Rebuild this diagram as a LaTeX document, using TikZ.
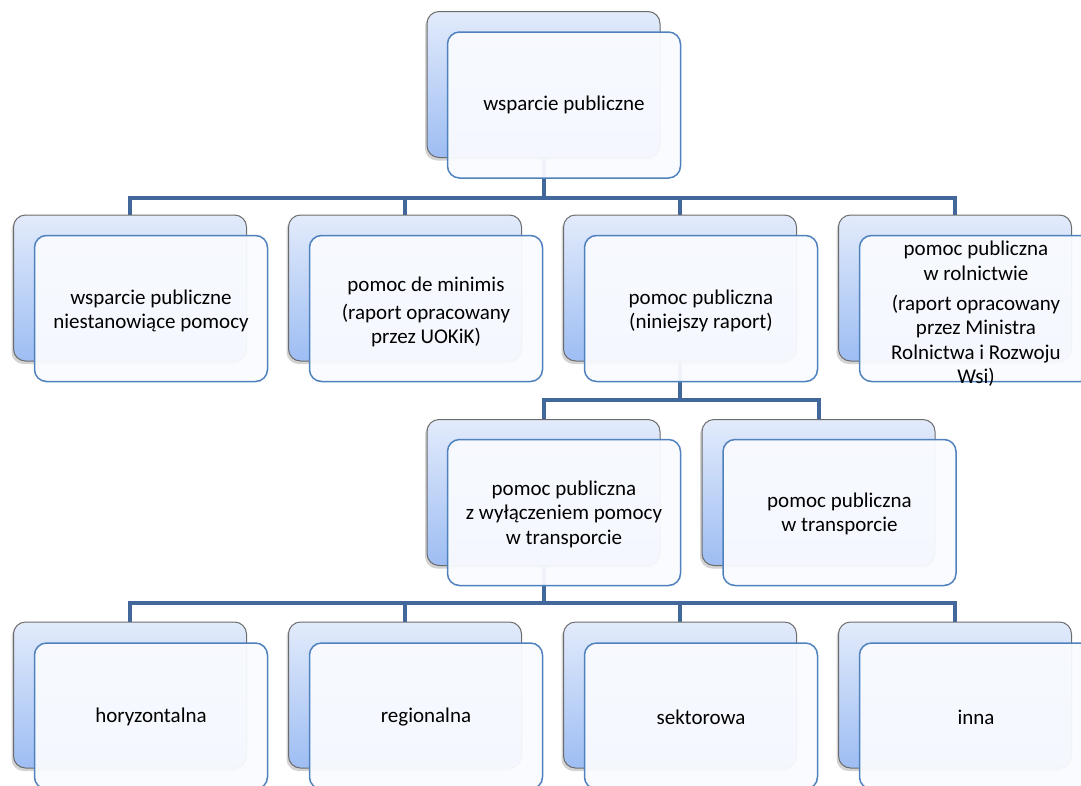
\documentclass[tikz,border=0pt]{standalone}
\usepackage{fontspec}
\setmainfont{Carlito}
\usetikzlibrary{shadows}
\pgfdeclarelayer{bg}
\pgfsetlayers{bg,main}
\definecolor{conncol}{HTML}{41679B}
\definecolor{fborder}{HTML}{4F81BD}
\definecolor{btop}{HTML}{E2EBFB}
\definecolor{bbot}{HTML}{9EBDF3}
\definecolor{ffill}{HTML}{F9FBFF}
\begin{document}
\begin{tikzpicture}[x=1pt,y=-1pt,
  backbox/.style={draw=gray!85!black, line width=1pt, rounded corners=12pt,
    top color=btop, bottom color=bbot, minimum width=233pt, minimum height=146pt,
    inner sep=0pt, drop shadow={shadow xshift=-2pt, shadow yshift=-3pt, opacity=0.35}},
  frontbox/.style={draw=fborder, line width=1.5pt, rounded corners=12pt,
    fill=ffill, fill opacity=0.95, minimum width=233pt,
    minimum height=146pt, inner sep=0pt},
  lbl/.style={align=center, inner sep=0pt, font=\fontsize{21}{24.5}\selectfont},
  conn/.style={draw=conncol, line width=4pt}]
\useasboundingbox (0,0) rectangle (1081,785);
\clip (0,0) rectangle (1081,785);
% row 1
\node[backbox] (b0) at (543.5,84.5) {};
\node[frontbox] (f0) at (564,105) {};
\node[lbl] (t0) at (564,105) {wsparcie publiczne};
% row 2
\node[backbox] (b1) at (130,288) {};
\node[frontbox] (f1) at (151,308.5) {};
\node[lbl] (t1) at (151,311) {wsparcie publiczne\\niestanowiące pomocy};
\node[backbox] (b2) at (405,288) {};
\node[frontbox] (f2) at (426,308.5) {};
\node[lbl] (t2) at (426,312) {pomoc de minimis\\[3.5pt](raport opracowany\\przez UOKiK)};
\node[backbox] (b3) at (680,288) {};
\node[frontbox] (f3) at (701,308.5) {};
\node[lbl] (t3) at (701,311) {pomoc publiczna\\(niniejszy raport)};
\node[backbox] (b4) at (955,288) {};
\node[frontbox] (f4) at (976,308.5) {};
\node[lbl] (t4) at (976,314)
  {pomoc publiczna\\w rolnictwie\\[5.5pt](raport opracowany\\przez Ministra\\Rolnictwa i Rozwoju\\Wsi)};
% row 3
\node[backbox] (b5) at (543.5,492.5) {};
\node[frontbox] (f5) at (564,512.5) {};
\node[lbl] (t5) at (564,514) {pomoc publiczna\\z wyłączeniem pomocy\\w transporcie};
\node[backbox] (b6) at (818.5,492.5) {};
\node[frontbox] (f6) at (839.5,512.5) {};
\node[lbl] (t6) at (839.5,514) {pomoc publiczna\\w transporcie};
% row 4
\node[backbox] (b7) at (130,695) {};
\node[frontbox] (f7) at (151,716) {};
\node[lbl] (t7) at (151,717) {horyzontalna};
\node[backbox] (b8) at (405,695) {};
\node[frontbox] (f8) at (426,716) {};
\node[lbl] (t8) at (426,717) {regionalna};
\node[backbox] (b9) at (680,695) {};
\node[frontbox] (f9) at (701,716) {};
\node[lbl] (t9) at (701,717) {sektorowa};
\node[backbox] (b10) at (955,695) {};
\node[frontbox] (f10) at (976,716) {};
\node[lbl] (t10) at (976,717) {inna};
% junctions
\coordinate (j1) at (543.5,198);
\coordinate (j2) at (680,400);
\coordinate (j3) at (543.5,603);
\begin{pgfonlayer}{bg}
\foreach \c in {b1,b2,b3,b4}
  \draw[conn] (b0.south) -- (b0.south |- j1) -| (\c.north);
\foreach \c in {b5,b6}
  \draw[conn] (b3.south) -- (b3.south |- j2) -| (\c.north);
\foreach \c in {b7,b8,b9,b10}
  \draw[conn] (b5.south) -- (b5.south |- j3) -| (\c.north);
\end{pgfonlayer}
\end{tikzpicture}
\end{document}
